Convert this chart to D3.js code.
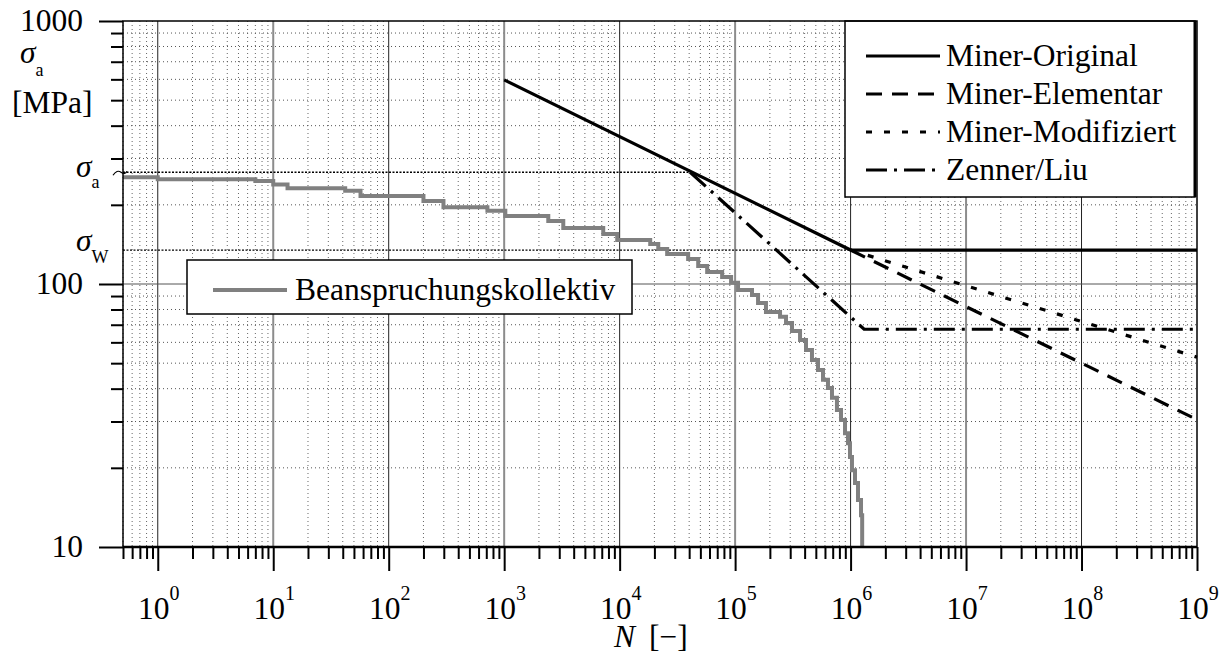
<!DOCTYPE html>
<html>
<head>
<meta charset="utf-8">
<script src="https://cdnjs.cloudflare.com/ajax/libs/d3/7.8.5/d3.min.js"></script>
<style>
body { margin: 0; background: #fff; }
svg { font-family: "Liberation Serif", "Times New Roman", serif; }
</style>
</head>
<body>
<svg id="chart" width="1232" height="653"></svg>
<script>
// Wöhlerlinien: N [-] gegen Spannungsamplitude [MPa]
var xDecades = [0, 1, 2, 3, 4, 5, 6, 7, 8, 9];
var yMajor = [10, 100, 1000];
var sigmaA = 266;
var sigmaW = 134.6;

var minerOriginal = [[1e3, 597], [1e6, 134.6], [1e9, 134.6]];
var minerElementar = [[1e6, 134.6], [1e9, 30.5]];
var minerModifiziert = [[1e6, 134.6], [1e9, 52.7]];
var zennerLiu = [[4.08e4, 266], [1.31e6, 67.3], [1e9, 67.3]];

// Beanspruchungskollektiv (Stufen: Beginn der Stufe, Amplitude)
var kollektivN = [0.5, 1, 7.0, 10, 13.3, 42, 57, 200, 298, 716, 1023, 2410, 3250, 7210, 9530,
    18400, 21600, 25800, 39200, 47900, 57300, 77200, 92300, 106000, 140000, 158000, 185000,
    245000, 276000, 311000, 365000, 411000, 463000, 522000, 577000, 637000, 690000, 762000,
    826000, 895000, 950000, 988000, 1028000, 1092000, 1159000, 1231000, 1260000];
var kollektivS = [254.6, 250, 246.5, 239, 231, 226, 216, 207, 196, 190, 181.4, 173.6, 163.3, 155, 147,
    141.9, 135.9, 130, 124.5, 117, 111, 106.4, 101, 94.9, 90.8, 84.7, 78.3,
    75, 71.1, 66.3, 61.2, 56.1, 51.4, 47.1, 43.2, 40.2, 36.9, 33.2,
    30.4, 27.1, 24.8, 22, 19.6, 17.5, 15.1, 13.2, 10];

var legendNames = ["Miner-Original", "Miner-Elementar", "Miner-Modifiziert", "Zenner/Liu"];
var legendDash = ["none", "16,10", "6,12", "21,7,3,7"];

var svg = d3.select("#chart");
var pLeft = 123, pRight = 1197, pTop = 21, pBottom = 547;
var fs = 31.5;

var x = d3.scaleLog().domain([0.5, 1e9]).range([pLeft, pRight]);
var y = d3.scaleLog().domain([10, 1000]).range([pBottom, pTop]);

function minorValues(d0, d1, lo, hi){
    var vals = [];
    for (var d = d0; d <= d1; d++){
        for (var m = 2; m <= 9; m++){
            var v = m * Math.pow(10, d);
            if (v >= lo && v < hi) vals.push(v);
        }
    }
    return vals;
}
var xMinor = minorValues(-1, 8, 0.5, 1e9);
var yMinor = minorValues(1, 2, 10, 1000);
var xMajor = xDecades.map(function(d){ return Math.pow(10, d); });

// grid
var grid = svg.append("g");
grid.selectAll(".vminor").data(xMinor).enter().append("line")
    .attr("x1", function(d){ return x(d); }).attr("x2", function(d){ return x(d); })
    .attr("y1", pTop).attr("y2", pBottom)
    .attr("stroke", "#666").attr("stroke-width", 1).attr("stroke-dasharray", "1,3");
grid.selectAll(".hminor").data(yMinor).enter().append("line")
    .attr("x1", pLeft).attr("x2", pRight)
    .attr("y1", function(d){ return y(d); }).attr("y2", function(d){ return y(d); })
    .attr("stroke", "#555").attr("stroke-width", 1).attr("stroke-dasharray", "1,3");
grid.selectAll(".vmajor").data(xMajor.slice(0, 9)).enter().append("line")
    .attr("x1", function(d){ return x(d); }).attr("x2", function(d){ return x(d); })
    .attr("y1", pTop).attr("y2", pBottom)
    .attr("stroke", function(d, i){ return i % 2 ? "#8c8c8c" : "#222"; })
    .attr("stroke-width", function(d, i){ return i % 2 ? 2 : 1; });
grid.append("line")
    .attr("x1", pLeft).attr("x2", pRight).attr("y1", y(100)).attr("y2", y(100))
    .attr("stroke", "#555").attr("stroke-width", 1);

// sigma_a / sigma_W Hilfslinien
svg.append("line").attr("x1", pLeft).attr("x2", x(zennerLiu[0][0]))
    .attr("y1", y(sigmaA)).attr("y2", y(sigmaA))
    .attr("stroke", "#000").attr("stroke-width", 1.3).attr("stroke-dasharray", "2,1.5");
svg.append("line").attr("x1", pLeft).attr("x2", x(1e6))
    .attr("y1", y(sigmaW)).attr("y2", y(sigmaW))
    .attr("stroke", "#000").attr("stroke-width", 1.3).attr("stroke-dasharray", "2,1.5");

var line = d3.line().x(function(d){ return x(d[0]); }).y(function(d){ return y(d[1]); });

svg.append("path").datum(d3.zip(kollektivN, kollektivS))
    .attr("d", line.curve(d3.curveStepAfter))
    .attr("fill", "none").attr("stroke", "#808080").attr("stroke-width", 4);
line.curve(d3.curveLinear);

var series = [minerOriginal, minerElementar, minerModifiziert, zennerLiu];
series.forEach(function(s, i){
    svg.append("path").datum(s).attr("d", line)
        .attr("fill", "none").attr("stroke", "#000").attr("stroke-width", 3.2)
        .attr("stroke-dasharray", legendDash[i]);
});

// Legende oben rechts
var leg = svg.append("g");
leg.append("rect").attr("x", 845).attr("y", pTop).attr("width", 350).attr("height", 176)
    .attr("fill", "#fff").attr("stroke", "#000").attr("stroke-width", 1.5);
leg.append("line").attr("x1", 1195).attr("x2", 1195).attr("y1", pTop).attr("y2", pTop + 176)
    .attr("stroke", "#000").attr("stroke-width", 3);
legendNames.forEach(function(name, i){
    var by = 66 + i * 38;
    leg.append("line").attr("x1", 866).attr("x2", 940).attr("y1", by - 10).attr("y2", by - 10)
        .attr("stroke", "#000").attr("stroke-width", 3).attr("stroke-dasharray", legendDash[i]);
    leg.append("text").attr("x", 946).attr("y", by).attr("font-size", fs).text(name);
});

// Legende Kollektiv
var leg2 = svg.append("g");
leg2.append("rect").attr("x", 187).attr("y", 260).attr("width", 445).attr("height", 54)
    .attr("fill", "#fff").attr("stroke", "#000").attr("stroke-width", 1.5);
leg2.append("line").attr("x1", 213).attr("x2", 287).attr("y1", 290).attr("y2", 290)
    .attr("stroke", "#808080").attr("stroke-width", 4);
leg2.append("text").attr("x", 295).attr("y", 300).attr("font-size", fs).text("Beanspruchungskollektiv");

// Rahmen
svg.append("rect").attr("x", pLeft).attr("y", pTop).attr("width", pRight - pLeft).attr("height", pBottom - pTop)
    .attr("fill", "none").attr("stroke", "#000").attr("stroke-width", 1.5);
svg.append("line").attr("x1", pLeft).attr("x2", pRight).attr("y1", pBottom).attr("y2", pBottom)
    .attr("stroke", "#000").attr("stroke-width", 2.5);

// Achsen
function styleAxis(g){
    g.select(".domain").remove();
    g.selectAll(".tick line").attr("stroke", "#000").attr("stroke-width", 2);
}
svg.append("g").attr("transform", "translate(0," + pBottom + ")")
    .call(d3.axisBottom(x).tickValues(xMinor).tickSize(12).tickFormat(""))
    .call(styleAxis);
svg.append("g").attr("transform", "translate(0," + pBottom + ")")
    .call(d3.axisBottom(x).tickValues(xMajor).tickSize(24).tickFormat(""))
    .call(styleAxis);
svg.append("g").attr("transform", "translate(" + pLeft + ",0)")
    .call(d3.axisLeft(y).tickValues(yMinor).tickSize(12).tickFormat(""))
    .call(styleAxis);
svg.append("g").attr("transform", "translate(" + pLeft + ",0)")
    .call(d3.axisLeft(y).tickValues(yMajor).tickSize(24).tickFormat(""))
    .call(styleAxis);

// Beschriftung x
xDecades.forEach(function(d){
    var t = svg.append("text").attr("x", x(Math.pow(10, d)) + 1).attr("y", 619)
        .attr("text-anchor", "middle").attr("font-size", fs);
    t.append("tspan").text("10");
    t.append("tspan").attr("font-size", 20).attr("dy", -19).text(d);
});
yMajor.forEach(function(v){
    svg.append("text").attr("x", 83).attr("y", y(v) + 10).attr("text-anchor", "end")
        .attr("font-size", fs).text(v);
});

// Achsentitel
var ylab = svg.append("text").attr("x", 20).attr("y", 63).attr("font-size", fs);
ylab.append("tspan").attr("font-style", "italic").text("σ");
ylab.append("tspan").attr("font-size", 18).attr("dy", 13).text("a");
svg.append("text").attr("x", 12).attr("y", 113).attr("font-size", fs).text("[MPa]");

var xlab = svg.append("text").attr("x", 614).attr("y", 647).attr("font-size", fs);
xlab.append("tspan").attr("font-style", "italic").text("N");
xlab.append("tspan").attr("dx", 14).text("[−]");

// sigma_a, sigma_W am Rand
var sa = svg.append("text").attr("x", 76).attr("y", y(sigmaA) + 5).attr("font-size", fs);
sa.append("tspan").attr("font-style", "italic").text("σ");
sa.append("tspan").attr("font-size", 18).attr("dy", 11).text("a");
var sw = svg.append("text").attr("x", 76).attr("y", y(sigmaW) + 1).attr("font-size", fs);
sw.append("tspan").attr("font-style", "italic").text("σ");
sw.append("tspan").attr("font-size", 18).attr("dy", 12).text("W");
svg.append("path")
    .attr("d", "M113," + (y(sigmaA) + 3) + " q4,-6 8,-3 t6,-1")
    .attr("fill", "none").attr("stroke", "#000").attr("stroke-width", 1.2);
</script>
</body>
</html>
